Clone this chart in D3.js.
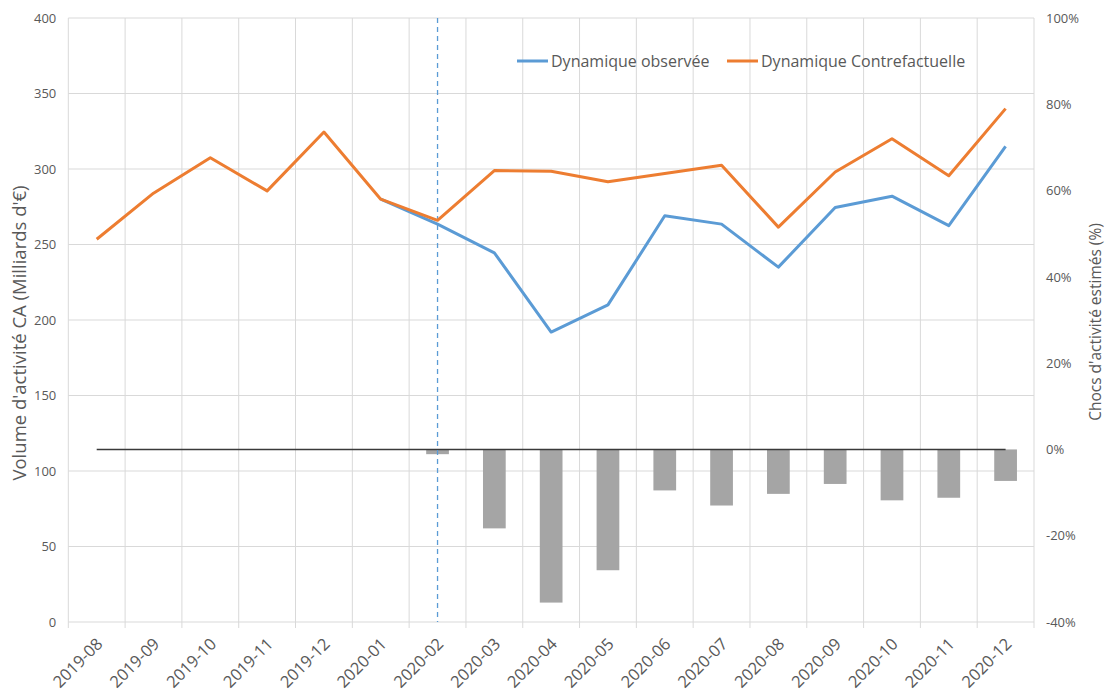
<!DOCTYPE html>
<html><head><meta charset="utf-8">
<script src="https://cdn.jsdelivr.net/npm/d3@7"></script>
<style>
body{margin:0;background:#fff;}
svg{display:block;font-family:"Open Sans",sans-serif;}
</style></head>
<body><svg id="c" width="1105" height="691"></svg>
<script>
const categories = ["2019-08","2019-09","2019-10","2019-11","2019-12","2020-01","2020-02","2020-03","2020-04","2020-05","2020-06","2020-07","2020-08","2020-09","2020-10","2020-11","2020-12"];
const contrefactuelle = [253.5,284,307.5,285.5,324.5,280,266,299,298.5,291.5,297,302.5,261.5,298,320,295.5,340];
const observee = [null,null,null,null,null,280,263.5,244.5,192,210,269,263.5,235,274.5,282,262.5,315];
const chocs = [null,null,null,null,null,null,-1.1,-18.3,-35.5,-28.0,-9.5,-13.0,-10.3,-8.0,-11.8,-11.2,-7.3];
const zeroLine = categories.map(() => 0);
const leftTicks = [0,50,100,150,200,250,300,350,400];
const rightTicks = [-40,-20,0,20,40,60,80,100];
const markerCategory = "2020-02";
const seriesNames = ["Dynamique observée","Dynamique Contrefactuelle"];
const leftTitle = "Volume d'activité CA (Milliards d'€)";
const rightTitle = "Chocs d'activité estimés (%)";

const L = 68.3, R = 1034, T = 18, B = 622;
const svg = d3.select("#c");
const x = d3.scaleBand().domain(categories).range([L, R]).paddingInner(0).paddingOuter(0);
const yL = d3.scaleLinear().domain([0, 400]).range([B, T]);
const yR = d3.scaleLinear().domain([-40, 100]).range([B, T]);
const cx = c => x(c) + x.bandwidth() / 2;
const grid = "#d9d9d9", txt = "#595959";

// horizontal gridlines
svg.append("g").selectAll("line").data(leftTicks).join("line")
  .attr("x1", L).attr("x2", R).attr("y1", d => yL(d)).attr("y2", d => yL(d))
  .attr("stroke", grid).attr("stroke-width", 1);
// vertical gridlines (category boundaries) with tick marks
const bounds = categories.map(c => x(c)).concat([R]);
svg.append("g").selectAll("line").data(bounds).join("line")
  .attr("x1", d => d).attr("x2", d => d).attr("y1", T).attr("y2", B + 6)
  .attr("stroke", grid).attr("stroke-width", 1);

// left axis labels
const axL = svg.append("g").attr("transform", `translate(${L},0)`)
  .call(d3.axisLeft(yL).tickValues(leftTicks).tickSize(0).tickPadding(12));
axL.select(".domain").remove();
axL.selectAll("text").attr("fill", txt).style("font-size", "13px").style("font-family", "Open Sans");
// right axis labels
const axR = svg.append("g").attr("transform", `translate(${R},0)`)
  .call(d3.axisRight(yR).tickValues(rightTicks).tickFormat(d => d + "%").tickSize(0).tickPadding(12));
axR.select(".domain").remove();
axR.selectAll("text").attr("fill", txt).style("font-size", "13px").style("font-family", "Open Sans");

// x labels
svg.append("g").selectAll("text").data(categories).join("text")
  .attr("transform", d => `translate(${cx(d) + 7},${B + 23}) rotate(-45)`)
  .attr("text-anchor", "end").attr("fill", txt).style("font-size", "16.5px")
  .text(d => d);

// bars
const bw = x.bandwidth() * 0.4;
svg.append("g").selectAll("rect").data(categories.map((c, i) => ({c, v: chocs[i]})).filter(d => d.v !== null)).join("rect")
  .attr("x", d => cx(d.c) - bw / 2).attr("width", bw)
  .attr("y", d => yR(Math.max(0, d.v))).attr("height", d => Math.abs(yR(d.v) - yR(0)))
  .attr("fill", "#a5a5a5");

// zero line series
svg.append("path").datum(categories.map((c, i) => [cx(c), yR(zeroLine[i])]))
  .attr("d", d3.line()).attr("fill", "none").attr("stroke", "#3a3a3a").attr("stroke-width", 1.5);

// dashed marker
svg.append("line").attr("x1", cx(markerCategory)).attr("x2", cx(markerCategory))
  .attr("y1", T).attr("y2", B).attr("stroke", "#5b9bd5").attr("stroke-width", 1.3).attr("stroke-dasharray", "5,4");

const line = d3.line().defined(d => d.v !== null).x(d => cx(d.c)).y(d => yL(d.v));
svg.append("path").datum(categories.map((c, i) => ({c, v: observee[i]})))
  .attr("d", line).attr("fill", "none").attr("stroke", "#5b9bd5").attr("stroke-width", 3).attr("stroke-linejoin", "round");
svg.append("path").datum(categories.map((c, i) => ({c, v: contrefactuelle[i]})))
  .attr("d", line).attr("fill", "none").attr("stroke", "#ed7d31").attr("stroke-width", 3).attr("stroke-linejoin", "round");

// legend
const leg = svg.append("g");
const legColors = ["#5b9bd5", "#ed7d31"];
const legX = [517, 727];
seriesNames.forEach((n, i) => {
  leg.append("line").attr("x1", legX[i]).attr("x2", legX[i] + 31).attr("y1", 61).attr("y2", 61)
    .attr("stroke", legColors[i]).attr("stroke-width", 3);
  leg.append("text").attr("x", legX[i] + 34).attr("y", 66.5).attr("fill", txt).style("font-size", "16px").text(n);
});

// axis titles
svg.append("text").attr("transform", `translate(26,333) rotate(-90)`).attr("text-anchor", "middle")
  .attr("fill", txt).style("font-size", "18.5px").text(leftTitle);
svg.append("text").attr("transform", `translate(1101,322) rotate(-90)`).attr("text-anchor", "middle")
  .attr("fill", txt).style("font-size", "15.5px").text(rightTitle);
</script></body></html>
